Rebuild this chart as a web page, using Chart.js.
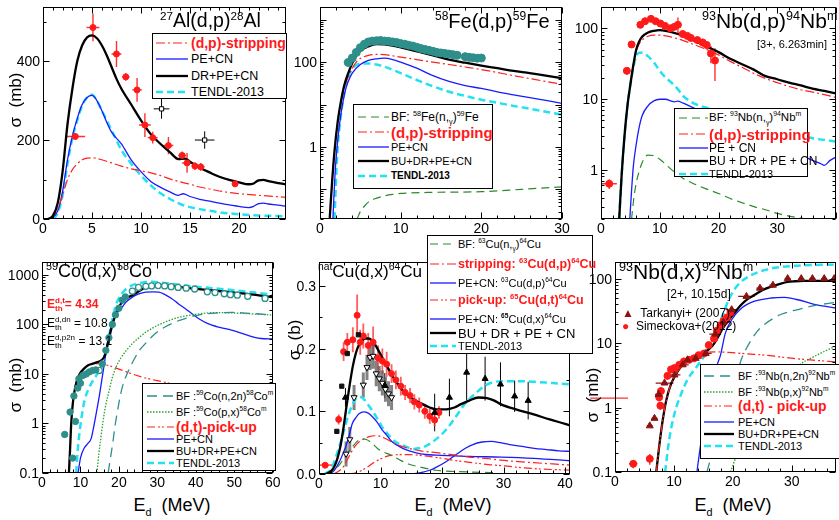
<!DOCTYPE html>
<html>
<head>
<meta charset="utf-8">
<script src="https://cdn.jsdelivr.net/npm/chart.js@4.4.1/dist/chart.umd.min.js"></script>
<style>
  body { margin: 0; background: #fff; width: 839px; height: 520px; overflow: hidden; position: relative;
         font-family: "Liberation Sans", Arial, sans-serif; color: #000; }
  canvas { position: absolute; }
  .t { position: absolute; white-space: nowrap; line-height: 1; }
  .tk { position: absolute; white-space: nowrap; line-height: 1; font-size: 14px; z-index: 6; }
  .lg { position: absolute; background: #fff; border: 1px solid #000; z-index: 5; box-sizing: border-box; }
  .lg svg { position: absolute; left: 0; top: 0; }
  .row { position: absolute; white-space: nowrap; line-height: 1; transform: translateY(-50%); }
  sup, sub { font-size: 60%; line-height: 0; }
  .red { color: #ff1a1a; font-weight: bold; }
  .ss { display: inline-flex; flex-direction: column; font-size: 8px; line-height: 8px; vertical-align: middle; }
</style>
</head>
<body>
<canvas id="c1"></canvas><canvas id="c2"></canvas><canvas id="c3"></canvas>
<canvas id="c4"></canvas><canvas id="c5"></canvas><canvas id="c6"></canvas>

<script>
// ---------- 27Al(d,p)28Al ----------
const alStripping = [[0.8,0],[1.5,25],[2,60],[2.5,100],[3,125],[3.5,140],[4,150],[4.5,154],[5,155],[6,150],[7,142],[8,134],[9,127],[10,122],[11,117],[12,110],[13,101],[14,94],[15,88],[16,81],[17,76],[18,71],[19,67],[20,64],[22,60],[24.8,55]];
const alPECN = [[0.8,0],[1.5,20],[2,70],[2.5,150],[3,210],[3.5,255],[4,290],[4.5,308],[5,313],[5.5,300],[6,275],[6.5,245],[7,220],[8,190],[9,150],[10,120],[11,95],[12,80],[13,68],[13.8,60],[14.3,64],[15,57],[16,50],[17,45],[18,40],[19,36],[20,32],[21,29],[21.5,32],[22,39],[22.5,40],[23,38],[24,35],[24.8,32]];
const alDRPECN = [[0.5,0],[1,8],[1.5,40],[2,120],[2.5,240],[3,330],[3.5,400],[4,440],[4.5,460],[5,465],[5.5,458],[6,440],[6.5,415],[7,385],[7.5,355],[8,330],[9,290],[10,250],[11,215],[12,190],[13,168],[13.8,152],[14.5,153],[15,145],[16,130],[17,118],[18,107],[19,99],[20,93],[21,88],[21.5,90],[22,98],[22.5,99],[23,96],[24,91],[24.8,88]];
const alTENDL = [[1,0],[1.5,15],[2,60],[2.5,140],[3,205],[3.5,250],[4,288],[4.5,308],[5,315],[5.5,300],[6,275],[7,225],[8,175],[9,140],[10,110],[11,85],[12,65],[13,50],[14,38],[15,30],[16,25],[18,17],[20,12],[22,9],[24.8,7]];
const alExpX = [3.3, 5.1, 7.5, 8.45, 9.6, 10.4, 11.2, 12.8, 14.2, 14.7, 15.5, 16.1, 19.6];
const alExpY = [209, 485, 418, 360, 327, 238, 206, 186, 161, 142, 134, 132, 89];
const alExpXErr = [1.0, 0.65, 0.5, 0.4, 0.5, 0.6, 0.5, 0.5, 0.4, 0.5, 0.3, 0.4, 0.2];
const alExpYErr = [8, 35, 33, 10, 30, 30, 15, 22, 10, 25, 10, 10, 4];
const alOpenX = [12.1, 16.5];
const alOpenY = [279, 200];
const alOpenXErr = [0.8, 1.0];
const alOpenYErr = [25, 22];

// ---------- 58Fe(d,p)59Fe ----------
const feBF = [[4.6,0.02],[5,0.03],[5.5,0.04],[6,0.05],[7,0.062],[8,0.07],[9,0.076],[10,0.08],[14,0.085],[20,0.088],[25,0.1],[30,0.115]];
const feStripping = [[1.2,0.02],[1.5,0.15],[1.8,0.8],[2.2,4],[2.6,11],[3,24],[3.5,45],[4,72],[4.5,100],[5,122],[6,145],[7,153],[8,150],[10,132],[12,115],[14,100],[16,88],[18,77],[20,67],[22,57],[24,48],[26,41],[28,35],[30,30]];
const fePECN = [[1.6,0.02],[1.9,0.3],[2.25,1.8],[2.6,6],[3.1,20],[3.5,35],[4,55],[5,88],[6,110],[7,120],[8,124],[9,115],[10,100],[12,72],[14,48],[16,35],[18,28],[20,24],[22,20],[24,17],[26,14.5],[28,12.5],[30,10.7]];
const feBUDRPECN = [[1.2,0.02],[1.5,0.15],[1.8,0.8],[2.2,4],[2.6,12],[3,28],[3.5,55],[4,95],[4.5,145],[5,185],[6,235],[7,265],[8,262],[9,245],[10,222],[12,180],[14,145],[16,115],[18,97],[20,83],[22,72],[24,62],[26,55],[28,48],[30,42]];
const feTENDL = [[1.8,0.02],[2.1,0.5],[2.5,4],[3,18],[3.5,45],[4,70],[4.5,85],[5,92],[6,93],[7,88],[8,78],[10,55],[12,38],[14,27],[16,20],[18,16],[20,13],[22,11],[24,9.3],[26,8],[28,6.8],[30,5.8]];
const feExpX = [3.5,4,4.5,5,5.5,6,6.5,7,7.5,8,8.5,9,9.5,10,10.5,11,11.5,12,12.5,13,13.5,14,14.5,15,15.5,16,16.5,17,18,18.5,19,19.5,20];
const feExpY = [98,125,170,220,265,300,315,320,325,315,310,300,290,275,265,250,240,225,210,200,190,180,170,165,160,155,150,145,135,130,127,124,125];

// ---------- 93Nb(d,p)94Nbm ----------
const nbpBF = [[5.2,0.2],[5.6,0.4],[6,0.65],[6.5,0.95],[7,1.25],[7.5,1.5],[8,1.6],[9,1.58],[10,1.4],[12,1.0],[14,0.75],[16,0.62],[18,0.53],[20,0.46],[22,0.39],[24,0.34],[26,0.3],[28,0.27],[30,0.24],[32,0.22],[35,0.2]];
const nbpStripping = [[3.1,0.2],[3.5,0.8],[4,3],[4.5,8],[5,16],[5.5,29],[6,47],[6.5,60],[7,68],[8,77],[9,80],[10,80],[11,78],[12,75],[14,67],[16,58],[18,50],[20,42],[22,34],[24,28],[26,23],[28,19.5],[30,17],[32,15],[34,13.5],[36,12.5],[38,11.5],[40,10.5]];
const nbpPECN = [[4.9,0.2],[5.2,0.5],[5.5,1.1],[6,2.3],[6.5,4],[7,5.8],[8,8],[9,9.4],[10,9.9],[11,9.9],[12,9.3],[12.5,9.1],[13,9.3],[14,8.7],[16,7.3],[18,6.2],[20,5.3],[22,4.5],[25,3.6],[28,2.8],[31,2.1],[34,1.6],[36,1.35],[37.5,1.2],[38,1.15],[39,1.35],[40,1.5]];
const nbpBUDRPECN = [[3.1,0.2],[3.5,0.8],[4,3],[4.5,8],[5,16],[5.5,30],[6,50],[6.5,65],[7,76],[8,87],[9,92],[10,94],[11,92],[12,88],[14,78],[16,66],[18,55],[20,46],[22,37],[24,31],[26,26],[28,21],[30,19],[32,17],[34,15.5],[36,14],[38,13],[40,12]];
const nbpTENDL = [[3.1,0.2],[3.5,0.8],[4,3],[4.5,8],[5,16],[5.5,28],[6,40],[6.5,45],[7,45],[8,40],[9,33],[10,25],[11,20],[12,17],[13,14],[14,11],[15,9.5],[16,8.5],[18,7.5],[20,6.8],[22,6],[25,5],[28,4.2],[31,3.5],[34,3],[37,2.7],[40,2.5]];
const nbpExpX = [1.4, 4.4, 5.2, 6.7, 7.5, 8.5, 9.3, 10.1, 10.9, 11.8, 12.5, 13.1, 13.9, 14.7, 15.3, 16.4, 17.3, 18.0, 18.7, 19.4];
const nbpExpY = [0.63, 25, 59, 112, 126, 136, 126, 117, 108, 100, 105, 112, 83, 78, 73, 68, 63, 58, 44, 35];
const nbpExpXErr = [1.3, 0.6, 0.6, 0.4, 0.4, 0.4, 0.4, 0.4, 0.4, 0.4, 0.4, 0.4, 0.4, 0.4, 0.4, 0.4, 0.4, 0.4, 0.3, 0.3];
const nbpExpYErr = [0.1, 3, 6, 12, 12, 12, 12, 12, 10, 10, 12, 30, 10, 8, 8, 8, 8, 8, 12, 17];

// ---------- 59Co(d,x)58Co ----------
const coBFn2n = [[17.2,0.1],[17.8,0.2],[18.4,0.4],[19,0.9],[19.7,1.9],[20.3,3.4],[20.9,5.5],[21.8,8.8],[22.7,12.6],[24,20],[25.2,29],[27,42],[28.7,58],[31,80],[33.8,105],[37,130],[40.7,155],[45,170],[49.3,175],[54,168],[60,155]];
const coBFpx = [[14.3,0.1],[14.8,0.25],[15.3,0.5],[15.8,1],[16.5,2.2],[17.5,4.7],[18.3,8.5],[19.2,13.5],[20.5,21],[21.8,29],[23.5,41],[25.2,54],[27,70],[29.5,91],[32,112],[34,128],[36.4,144],[40,160],[43.3,171],[46,173],[49.3,171],[52,167],[56,161],[60,155]];
const coPickup = [[7,0.1],[7.6,1],[8.5,4.7],[9.8,10],[11,13],[12,15],[13,16],[14,16.2],[15,16],[17.5,14.7],[20.9,11.8],[26.1,8.6],[32,6.8],[38,5.3],[44,4.2],[50,3.4],[55,2.9],[60,2.5]];
const coPECN = [[9.4,0.1],[10,0.2],[11,0.32],[12,0.4],[12.8,0.5],[13.5,0.9],[14.1,1.6],[14.8,3.2],[15.4,6.3],[16.2,16],[17.1,46],[18.4,114],[19.5,170],[20.5,208],[22,290],[23.5,356],[25,410],[27,450],[29,455],[30.4,450],[32,400],[33.8,330],[35.5,260],[37.3,208],[39,165],[40.7,132],[43,105],[46,88],[49.3,77],[52,66],[55.3,55],[57,52],[60,51]];
const coBUDRPECN = [[7,0.1],[7.3,0.3],[7.6,1],[8,2.5],[8.5,4.7],[9,7],[9.8,10],[11,13],[12,15],[13,16],[14,17],[15,18],[16,21],[16.5,26],[17,37],[17.5,54],[18,80],[18.8,133],[19.5,190],[20.5,260],[22,340],[23.5,390],[25,460],[27,560],[29,610],[31,625],[33,610],[36,565],[40,525],[45,480],[50,440],[55,400],[60,355]];
const coTENDL = [[8.9,0.1],[9.3,0.3],[9.8,0.7],[10.5,1.7],[11.1,3],[12,4.8],[13,6.8],[14,9],[15,12],[16,18],[16.7,29],[17.3,50],[18,98],[18.6,160],[19.2,245],[20,340],[21,440],[22,530],[23.5,620],[25.2,680],[27,720],[28.7,730],[31,700],[34,660],[36.4,620],[40,580],[45,535],[50,490],[55,445],[60,395]];
const coExpX = [5.9, 7.3, 8.0, 8.3, 8.7, 9.3, 9.6, 10.0, 10.6, 11.5, 12.3, 13.2, 14.0, 15.7, 16.6, 17.4, 18.3, 19.1, 20.0, 20.9, 21.7];
const coExpY = [0.6, 1.7, 0.2, 3.6, 1.1, 5.2, 8, 6.5, 9.3, 10, 11, 11.8, 12.1, 16, 30, 54, 100, 156, 213, 310, 360];
const coOpenX = [14.9, 23.5, 25.1, 27, 28.5, 30.2, 31.9, 33.6, 35.4, 37.5, 39.7, 43, 45, 47.4, 49, 50.8, 53.5, 58];
const coOpenY = [11.8, 470, 560, 590, 600, 610, 600, 580, 560, 540, 520, 455, 440, 417, 400, 390, 370, 335];

// ---------- natCu(d,x)64Cu ----------
const cuBF = [[1.2,0],[2,0.003],[3,0.011],[3.5,0.017],[4.4,0.03],[5.4,0.043],[6.2,0.052],[7,0.056],[7.7,0.055],[8.5,0.05],[9.6,0.04],[10.5,0.035],[11.7,0.03],[13,0.023],[14.5,0.016],[16.5,0.011],[19,0.006],[22,0.004],[25,0.003],[29,0.002]];
const cuStripping = [[2.3,0],[3,0.003],[4,0.012],[4.4,0.019],[5,0.03],[5.9,0.045],[6.5,0.051],[7.5,0.057],[8.3,0.06],[9.1,0.061],[10,0.06],[10.7,0.057],[12,0.05],[13.8,0.043],[16.5,0.037],[19.1,0.034],[21.5,0.031],[24.4,0.027],[27,0.025],[29.6,0.022],[32,0.02],[34.9,0.018],[38,0.016],[41,0.014]];
const cuPECN63 = [[1.7,0],[2.5,0.006],[3.3,0.019],[4,0.035],[4.4,0.045],[5,0.065],[5.4,0.08],[6,0.09],[6.5,0.096],[7.3,0.099],[8,0.097],[8.6,0.092],[9.5,0.082],[10.2,0.071],[11,0.062],[11.7,0.053],[12.7,0.046],[13.8,0.04],[15,0.036],[16.5,0.032],[19.1,0.03],[22,0.029],[24.4,0.028],[29.6,0.027],[34.9,0.025],[41,0.021]];
const cuPickup = [[4.9,0],[6,0.002],[7,0.006],[8,0.012],[9,0.019],[10,0.024],[11,0.028],[12,0.03],[13,0.031],[14.5,0.031],[16,0.03],[18,0.028],[20,0.025],[22.5,0.021],[25,0.018],[27.5,0.015],[30,0.013],[33,0.01],[36,0.008],[41,0.006]];
const cuPECN65 = [[15,0],[16.5,0.002],[18,0.006],[19.1,0.011],[20.7,0.02],[22.3,0.031],[23.8,0.041],[25,0.047],[26.5,0.051],[28,0.052],[29.5,0.05],[31,0.047],[33,0.044],[35,0.041],[37,0.039],[39,0.037],[41,0.036]];
const cuBUDRPECN = [[1.2,0],[2,0.005],[2.5,0.012],[3,0.025],[3.5,0.045],[4,0.075],[4.5,0.11],[5,0.143],[5.5,0.172],[6,0.193],[6.5,0.206],[7,0.213],[7.5,0.216],[8,0.216],[8.6,0.213],[9.5,0.2],[10.2,0.187],[11,0.173],[11.7,0.16],[12.5,0.148],[13.8,0.131],[15,0.121],[16.5,0.113],[18,0.106],[19.1,0.103],[20.7,0.103],[22,0.106],[23,0.111],[24.4,0.117],[25.9,0.122],[27.3,0.121],[28.5,0.117],[29.6,0.111],[32,0.103],[34.9,0.095],[37.5,0.087],[40,0.08],[41,0.077]];
const cuTENDL = [[0.9,0],[2,0.008],[2.5,0.02],[3,0.035],[3.5,0.05],[4,0.067],[4.5,0.085],[5,0.1],[5.5,0.112],[6,0.12],[6.5,0.123],[7,0.122],[7.5,0.117],[8,0.11],[8.6,0.102],[9.5,0.088],[10.2,0.076],[11,0.066],[11.7,0.058],[12.5,0.051],[13.8,0.045],[15.4,0.04],[17,0.043],[18,0.048],[19.1,0.056],[20.7,0.071],[22.3,0.092],[23.8,0.113],[25.4,0.128],[27,0.141],[28.6,0.147],[30,0.148],[32.3,0.148],[35,0.147],[38,0.145],[41,0.143]];
const cuRedX = [1.0, 3.2, 4.0, 4.6, 5.5, 6.2, 6.7, 7.2, 8.0, 8.8, 9.6, 10.3, 11.0, 11.8, 12.5, 13.3, 14.0, 14.8, 15.5, 16.3, 17.2, 18.0, 18.8, 19.5];
const cuRedY = [0.014, 0.087, 0.195, 0.21, 0.214, 0.253, 0.21, 0.22, 0.205, 0.21, 0.185, 0.18, 0.175, 0.16, 0.15, 0.14, 0.13, 0.125, 0.115, 0.11, 0.1, 0.092, 0.086, 0.098];
const cuRedXErr = [1.5, 0.3, 0.3, 0.3, 0.3, 0.3, 0.3, 0.3, 0.3, 0.3, 0.3, 0.3, 0.3, 0.3, 0.3, 0.3, 0.3, 0.3, 0.3, 0.3, 0.3, 0.3, 0.3, 0.3];
const cuRedYErr = [0.003, 0.008, 0.015, 0.015, 0.02, 0.033, 0.02, 0.02, 0.02, 0.025, 0.02, 0.02, 0.02, 0.015, 0.015, 0.015, 0.012, 0.012, 0.012, 0.012, 0.012, 0.012, 0.01, 0.01];
const cuSqX = [2.9, 3.7, 4.6, 6.4];
const cuSqY = [0.068, 0.14, 0.192, 0.222];
const cuDownX = [4.4, 5.0, 5.7, 7.2, 7.8, 8.3, 8.8, 9.3, 9.8, 10.3, 10.8, 11.3, 11.8];
const cuDownY = [0.032, 0.055, 0.122, 0.142, 0.17, 0.186, 0.188, 0.16, 0.152, 0.145, 0.135, 0.128, 0.122];
const cuUpX = [4.3, 10.7, 18.8, 21.2, 24, 27, 29.5, 31.8, 34];
const cuUpY = [0.122, 0.141, 0.098, 0.122, 0.162, 0.152, 0.143, 0.124, 0.117];
const cuUpYErr = [0.015, 0.02, 0.03, 0.03, 0.045, 0.035, 0.035, 0.025, 0.03];

// ---------- 93Nb(d,x)92Nbm ----------
const nbxBFn2n = [[15.6,0.1],[16.2,0.16],[17,0.33],[18,0.7],[19,1.2],[20,2.3],[21,4.2],[21.5,5.8],[22.3,8.3],[23.2,11.5],[24.2,15.5],[25.4,19.6],[26.8,24],[28.2,28],[31,33],[33.8,38],[37.5,43]];
const nbxBFpx = [[19.6,0.1],[20.4,0.16],[21.5,0.3],[23,0.55],[25,0.95],[27,1.6],[29,2.8],[31,4.4],[33.8,6.2],[35.5,7.4],[37.5,9]];
const nbxPickup = [[7,0.1],[7.5,0.25],[8.1,0.64],[8.7,1.3],[9.5,2.3],[10.6,3.6],[12,5.0],[13,5.8],[14.2,6.6],[15.4,7.2],[17,7.3],[19.8,7.1],[22.5,6.8],[25.4,6.5],[28,6.1],[31,5.7],[34,5.4],[37.5,5.1]];
const nbxPECN = [[13.9,0.1],[14.4,0.22],[15,0.5],[15.6,1.0],[16.2,1.9],[16.8,3.2],[17.4,4.8],[17.9,6.5],[18.7,14],[19.8,23],[21.5,35],[23.7,44.6],[26.5,50],[28.8,51],[31,47],[33.8,40],[37.5,35]];
const nbxBUDRPECN = [[7,0.1],[7.5,0.25],[8.1,0.64],[8.7,1.3],[9.5,2.3],[10.6,3.6],[12,5.2],[13,5.9],[14.2,6.5],[15.2,7.2],[15.9,8],[16.5,9],[17,10.4],[17.6,13],[18.2,16.5],[19,21],[19.8,26],[20.6,32],[21.5,40],[22.5,48],[23.7,56],[25,66],[26.5,75],[28,83],[29.3,89],[30.5,91],[32.1,92],[35,92],[37.5,92]];
const nbxTENDL = [[8.5,0.1],[9.2,0.32],[10.1,0.81],[11.2,1.6],[12.3,2.7],[13.7,4.1],[15.4,6.9],[16.1,9.5],[16.8,13],[17.5,18],[18.2,26],[19.3,47],[20.4,71],[21.2,86],[22.1,100],[24.3,126],[27.1,147],[31,159],[34,163],[37.5,165]];
const nbxTarkX = [5.9, 6.7, 7.4, 8.4, 10.1, 11.5, 12.3, 13.7, 15.4, 17.0, 18.4, 19.8, 22.3, 24.6, 26.8, 29.3, 31.6, 33.5, 35.5, 37.2];
const nbxTarkY = [0.52, 0.68, 1.6, 2.4, 3.2, 4.6, 5.5, 5.8, 6.9, 13.8, 21, 33, 53, 71, 79, 100, 100, 100, 100, 100];
const nbxTarkXErr = [0.5, 0.5, 0.6, 1.5, 1.0, 1.0, 1.0, 1.0, 1.0, 1.0, 1.0, 1.0, 1.4, 0.6, 0.6, 0.5, 0.5, 0.5, 0.5, 0.5];
const nbxSimX = [3.1, 5.9, 7.5, 7.7, 7.8, 8.9, 9.5, 10.1, 10.9, 11.7, 12.6, 13.4, 14.2, 15.1, 15.9, 16.8, 17.3, 17.9, 18.4, 19.0, 19.6];
const nbxSimY = [0.134, 0.16, 1.44, 1.07, 1.8, 3.1, 3.9, 4.1, 4.6, 5.2, 5.5, 5.8, 6.5, 6.9, 9.3, 11.7, 15.6, 18.6, 22, 25, 30];
const nbxSimXErr = [0.7, 0.4, 0.3, 0.3, 0.3, 0.3, 0.3, 0.3, 0.3, 0.3, 0.3, 0.3, 0.3, 0.3, 0.3, 0.3, 0.3, 0.3, 0.3, 0.3, 0.3];
const nbxSimYErr = [0.02, 0.03, 0.2, 0.15, 0.25, 0.4, 0.5, 0.5, 0.5, 0.6, 0.6, 0.6, 0.7, 0.8, 1, 1.3, 1.7, 2, 2.4, 2.8, 3.3];

// tick labels
const alXTicks = [0, 5, 10, 15, 20], alYTicks = [0, 200, 400], alYLabels = ['0', '200', '400'];
const feXTicks = [0, 10, 20, 30], feYTicks = [0.1, 1, 10, 100, 1000], feYLabels = ['', '1', '', '100', ''];
const nbpXTicks = [0, 10, 20, 30], nbpYTicks = [1, 10, 100], nbpYLabels = ['1', '10', '100'];
const coXTicks = [0, 10, 20, 30, 40, 50, 60], coYTicks = [0.1, 1, 10, 100, 1000], coYLabels = ['0.1', '1', '10', '100', '1000'];
const cuXTicks = [0, 10, 20, 30, 40], cuYTicks = [0, 0.1, 0.2, 0.3], cuYLabels = ['0.0', '0.1', '0.2', '0.3'];
const nbxXTicks = [0, 10, 20, 30], nbxYTicks = [0.1, 1, 10, 100], nbxYLabels = ['0.1', '1', '10', '100'];

Chart.defaults.font.family = '"Liberation Sans", Arial, sans-serif';
Chart.defaults.font.size = 14;
Chart.defaults.color = '#000';
Chart.defaults.animation = false;

const ST = {
  black: { borderColor: '#000', borderWidth: 2.3 },
  blue:  { borderColor: '#1a1aff', borderWidth: 1.3 },
  cyan:  { borderColor: '#22e2f2', borderWidth: 2.5, borderDash: [7, 4] },
  strip: { borderColor: '#ff2020', borderWidth: 1.2, borderDash: [9, 3, 2, 3] },
  pick:  { borderColor: '#ff2020', borderWidth: 1.2, borderDash: [8, 3, 2, 2, 2, 3] },
  gdash: { borderColor: '#2a8a2a', borderWidth: 1.2, borderDash: [8, 5] },
  tdash: { borderColor: '#2f8f8f', borderWidth: 1.3, borderDash: [10, 6] },
  gdot:  { borderColor: '#2aa02a', borderWidth: 1.3, borderDash: [1.5, 1.5] }
};

function line(pairs, st, order) {
  return Object.assign({ data: pairs.map(p => ({ x: p[0], y: p[1] })), pointRadius: 0, fill: false,
    cubicInterpolationMode: 'monotone', order: order || 2 }, st);
}
function pts(xs, ys, o) {
  return Object.assign({ data: xs.map((x, i) => ({ x: x, y: ys[i] })), showLine: false, pointRadius: 3,
    pointBorderWidth: 1, order: 0 }, o);
}

// frame and inward ticks on all four sides
const frame = {
  id: 'frame',
  afterDraw(chart, args, o) {
    const { ctx, chartArea: a } = chart, sx = chart.scales.x, sy = chart.scales.y;
    const L = Math.round(a.left) + 0.5, R = Math.round(a.right) - 0.5, T = Math.round(a.top) + 0.5, B = Math.round(a.bottom) - 0.5;
    ctx.save();
    ctx.strokeStyle = '#000'; ctx.lineWidth = 1;
    ctx.strokeRect(L, T, R - L, B - T);
    ctx.beginPath();
    const xt = (v, len) => { const p = Math.round(sx.getPixelForValue(v)) + 0.5; ctx.moveTo(p, B); ctx.lineTo(p, B - len); ctx.moveTo(p, T); ctx.lineTo(p, T + len); };
    const yt = (v, len) => { const p = Math.round(sy.getPixelForValue(v)) + 0.5; ctx.moveTo(L, p); ctx.lineTo(L + len, p); ctx.moveTo(R, p); ctx.lineTo(R - len, p); };
    for (let i = Math.ceil(sx.min / o.xMinor); i * o.xMinor <= sx.max + 1e-9; i++) {
      const v = i * o.xMinor, r = v / o.xMajor;
      xt(v, Math.abs(r - Math.round(r)) < 1e-6 ? 6 : 3);
    }
    if (o.yLog) {
      for (let d = Math.floor(Math.log10(sy.min)); d <= Math.ceil(Math.log10(sy.max)); d++)
        for (let k = 1; k <= 9; k++) { const v = k * Math.pow(10, d); if (v >= sy.min && v <= sy.max) yt(v, k === 1 ? 6 : 3); }
    } else {
      for (let i = Math.ceil(sy.min / o.yMinor - 1e-9); i * o.yMinor <= sy.max + 1e-9; i++) {
        const v = i * o.yMinor, r = v / o.yMajor;
        yt(v, Math.abs(r - Math.round(r)) < 1e-6 ? 6 : 3);
      }
    }
    ctx.stroke();
    ctx.restore();
  }
};

const errBars = {
  id: 'errBars',
  beforeDatasetsDraw(chart) {
    const { ctx, chartArea: a } = chart, sx = chart.scales.x, sy = chart.scales.y;
    chart.data.datasets.forEach(ds => {
      if (!ds.xErr && !ds.yErr) return;
      ctx.save();
      if (!ds.noClip) { ctx.beginPath(); ctx.rect(a.left, a.top, a.right - a.left, a.bottom - a.top); ctx.clip(); }
      ctx.strokeStyle = ds.errColor; ctx.lineWidth = ds.errWidth || 1;
      ctx.beginPath();
      ds.data.forEach((p, i) => {
        const px = sx.getPixelForValue(p.x), py = sy.getPixelForValue(p.y);
        if (ds.xErr && ds.xErr[i]) { ctx.moveTo(sx.getPixelForValue(p.x - ds.xErr[i]), py); ctx.lineTo(sx.getPixelForValue(p.x + ds.xErr[i]), py); }
        if (ds.yErr && ds.yErr[i]) {
          const lo = Math.max(p.y - ds.yErr[i], sy.min);
          ctx.moveTo(px, sy.getPixelForValue(lo)); ctx.lineTo(px, sy.getPixelForValue(p.y + ds.yErr[i]));
        }
      });
      ctx.stroke();
      ctx.restore();
    });
  }
};

function tickLabel(x, y, txt, tf) {
  const d = document.createElement('div');
  d.className = 'tk';
  d.style.left = x + 'px'; d.style.top = y + 'px'; d.style.transform = tf;
  d.textContent = txt;
  document.body.appendChild(d);
}

function panel(id, box, xs, ys, datasets) {
  const cv = document.getElementById(id);
  const w = box.R - box.L + box.yw + 2, h = box.B - box.T + box.xh + 1;
  cv.width = w; cv.height = h;
  const cl = box.L - box.yw, ct = box.T - 1;
  cv.style.left = cl + 'px'; cv.style.top = ct + 'px';
  const chart = new Chart(cv, {
    type: 'line',
    data: { datasets: datasets },
    options: {
      responsive: false, devicePixelRatio: 1, events: [],
      layout: { padding: { top: 1, right: 2, left: 0, bottom: 0 } },
      plugins: { legend: { display: false }, tooltip: { enabled: false },
        frame: { xMinor: xs.minor, xMajor: xs.major, yMinor: ys.minor, yMajor: ys.major, yLog: ys.type === 'logarithmic' } },
      scales: {
        x: { type: 'linear', min: xs.min, max: xs.max,
          grid: { display: false }, border: { display: false }, ticks: { display: false },
          afterBuildTicks: s => { s.ticks = xs.ticks.map(v => ({ value: v })); },
          afterFit: s => { s.height = box.xh; s.paddingLeft = 0; s.paddingRight = 0; } },
        y: { type: ys.type, min: ys.min, max: ys.max,
          grid: { display: false }, border: { display: false }, ticks: { display: false },
          afterBuildTicks: s => { s.ticks = ys.ticks.map(v => ({ value: v })); },
          afterFit: s => { s.width = box.yw; s.paddingTop = 0; s.paddingBottom = 0; } }
      }
    },
    plugins: [frame, errBars]
  });
  // tick labels placed through the chart's own scales
  const a = chart.chartArea;
  xs.ticks.forEach(v => tickLabel(cl + chart.scales.x.getPixelForValue(v), ct + a.bottom + 2, String(v), 'translateX(-50%)'));
  ys.ticks.forEach((v, i) => { if (ys.labels[i]) tickLabel(cl + a.left - 3, ct + chart.scales.y.getPixelForValue(v), ys.labels[i], 'translate(-100%,-50%)'); });
}

// panel 1
panel('c1', { L: 43, R: 289, T: 3, B: 219, yw: 43, xh: 20 },
  { min: 0, max: 24.8, ticks: alXTicks, major: 5, minor: 1 },
  { type: 'linear', min: 0, max: 537, ticks: alYTicks, labels: alYLabels, major: 200, minor: 100 },
  [
    pts(alExpX, alExpY, { pointBackgroundColor: '#ff1a1a', pointBorderColor: '#ff1a1a', xErr: alExpXErr, yErr: alExpYErr, errColor: '#ff3030', errWidth: 1.4 }),
    pts(alOpenX, alOpenY, { pointStyle: 'rect', pointRadius: 3, pointBackgroundColor: '#fff', pointBorderColor: '#000', xErr: alOpenXErr, yErr: alOpenYErr, errColor: '#000', errWidth: 1 }),
    line(alDRPECN, ST.black, 1), line(alStripping, ST.strip), line(alPECN, ST.blue), line(alTENDL, ST.cyan)
  ]);

// panel 2
panel('c2', { L: 320, R: 565, T: 3, B: 219, yw: 31, xh: 20 },
  { min: 0, max: 30, ticks: feXTicks, major: 10, minor: 2 },
  { type: 'logarithmic', min: 0.02, max: 2000, ticks: feYTicks, labels: feYLabels },
  [
    pts(feExpX, feExpY, { pointRadius: 4, pointBackgroundColor: '#2e8f8a', pointBorderColor: '#2e8f8a', xErr: [0.5], errColor: '#2e8f8a', errWidth: 1.2 }),
    line(feBUDRPECN, ST.black, 1), line(feBF, ST.gdash), line(feStripping, ST.strip), line(fePECN, ST.blue), line(feTENDL, ST.cyan)
  ]);

// panel 3
panel('c3', { L: 601, R: 839, T: 3, B: 219, yw: 32, xh: 20 },
  { min: 0, max: 40, ticks: nbpXTicks, major: 10, minor: 2 },
  { type: 'logarithmic', min: 0.2, max: 200, ticks: nbpYTicks, labels: nbpYLabels },
  [
    pts(nbpExpX, nbpExpY, { pointRadius: 3.5, pointBackgroundColor: '#ff1a1a', pointBorderColor: '#ff1a1a', xErr: nbpExpXErr, yErr: nbpExpYErr, errColor: '#ff3030', errWidth: 1.4 }),
    line(nbpBUDRPECN, ST.black, 1), line(nbpBF, ST.gdash), line(nbpStripping, ST.strip), line(nbpPECN, ST.blue), line(nbpTENDL, ST.cyan)
  ]);

// panel 4
panel('c4', { L: 42, R: 276, T: 258, B: 473, yw: 42, xh: 20 },
  { min: 0, max: 60, ticks: coXTicks, major: 10, minor: 2 },
  { type: 'logarithmic', min: 0.1, max: 1800, ticks: coYTicks, labels: coYLabels },
  [
    pts(coExpX, coExpY, { pointRadius: 3.2, pointBackgroundColor: '#2e8f8a', pointBorderColor: '#2e8f8a' }),
    pts(coOpenX, coOpenY, { pointRadius: 3, pointBackgroundColor: '#fff', pointBorderColor: '#2e8f8a', pointBorderWidth: 1.3 }),
    line(coBUDRPECN, ST.black, 1), line(coBFn2n, ST.tdash), line(coBFpx, ST.gdot), line(coPickup, ST.pick), line(coPECN, ST.blue), line(coTENDL, ST.cyan)
  ]);

// panel 5
panel('c5', { L: 319, R: 573, T: 258, B: 474, yw: 30, xh: 20 },
  { min: 0, max: 40.8, ticks: cuXTicks, major: 10, minor: 2 },
  { type: 'linear', min: 0, max: 0.338, ticks: cuYTicks, labels: cuYLabels, major: 0.1, minor: 0.05 },
  [
    pts(cuSqX, cuSqY, { pointStyle: 'rect', pointRadius: 3, pointBackgroundColor: '#111', pointBorderColor: '#111' }),
    pts(cuUpX, cuUpY, { pointStyle: 'triangle', pointRadius: 3.5, pointBackgroundColor: '#000', pointBorderColor: '#000', yErr: cuUpYErr, errColor: '#000', errWidth: 1 }),
    pts(cuRedX, cuRedY, { pointBackgroundColor: '#ff1a1a', pointBorderColor: '#ff1a1a', xErr: cuRedXErr, yErr: cuRedYErr, errColor: 'rgba(255,40,40,0.75)', errWidth: 1.8 }),
    pts(cuDownX, cuDownY, { pointStyle: 'triangle', rotation: 180, pointRadius: 3.5, pointBackgroundColor: '#fff', pointBorderColor: '#000', yErr: cuDownY.map(() => 0.02), errColor: 'rgba(90,90,90,0.75)', errWidth: 3 }),
    line(cuBUDRPECN, ST.black, 1), line(cuBF, ST.gdash), line(cuStripping, ST.strip), line(cuPECN63, ST.blue),
    line(cuPickup, ST.pick), line(cuPECN65, ST.blue), line(cuTENDL, ST.cyan)
  ]);

// panel 6
panel('c6', { L: 615, R: 839, T: 258, B: 472, yw: 32, xh: 20 },
  { min: 0, max: 37.5, ticks: nbxXTicks, major: 10, minor: 2 },
  { type: 'logarithmic', min: 0.1, max: 181, ticks: nbxYTicks, labels: nbxYLabels },
  [
    pts(nbxTarkX, nbxTarkY, { pointStyle: 'triangle', pointRadius: 4, pointBackgroundColor: '#8b1212', pointBorderColor: '#8b1212', xErr: nbxTarkXErr, errColor: '#8b1212', errWidth: 1.2 }),
    pts(nbxSimX, nbxSimY, { pointRadius: 3.5, pointBackgroundColor: '#ff1a1a', pointBorderColor: '#ff1a1a', xErr: nbxSimXErr, yErr: nbxSimYErr, errColor: '#ff3030', errWidth: 1.4 }),
    pts([-1], [1.4], { pointRadius: 0, xErr: [3.2], errColor: '#ff3030', errWidth: 1.4, noClip: true }),
    line(nbxBUDRPECN, ST.black, 1), line(nbxPickup, ST.pick, 0.5), line(nbxBFn2n, ST.tdash), line(nbxBFpx, ST.gdot), line(nbxPECN, ST.blue), line(nbxTENDL, ST.cyan)
  ]);

// ---------- text overlays ----------
function text(x, y, html, css) {
  const d = document.createElement('div');
  d.className = 't'; d.style.left = x + 'px'; d.style.top = y + 'px';
  d.style.cssText += css || '';
  d.innerHTML = html;
  document.body.appendChild(d);
}
function legend(x, y, w, h, sx1, sx2, tx, rows) {
  const d = document.createElement('div');
  d.className = 'lg';
  Object.assign(d.style, { left: x + 'px', top: y + 'px', width: w + 'px', height: h + 'px' });
  let svg = '<svg width="' + w + '" height="' + h + '">';
  rows.forEach(r => {
    const s = r.st;
    svg += '<line x1="' + sx1 + '" x2="' + sx2 + '" y1="' + r.y + '" y2="' + r.y + '" stroke="' + s.borderColor +
      '" stroke-width="' + s.borderWidth + '"' + (s.borderDash ? ' stroke-dasharray="' + s.borderDash.join(' ') + '"' : '') + '/>';
  });
  svg += '</svg>';
  let html = svg;
  rows.forEach(r => { html += '<div class="row" style="left:' + tx + 'px;top:' + r.y + 'px;font-size:' + r.fs + 'px">' + r.html + '</div>'; });
  d.innerHTML = html;
  document.body.appendChild(d);
}
const sig = 'transform:translate(-50%,-50%) rotate(-90deg);font-size:17px;';
const ed = 'transform:translate(-50%,-50%);font-size:18px;';

// titles
text(160, 11, '<sup>27</sup>Al(d,p)<sup>28</sup>Al', 'font-size:19.5px');
text(435, 11, '<sup>58</sup>Fe(d,p)<sup>59</sup>Fe', 'font-size:20px');
text(702, 10, '<sup>93</sup>Nb(d,p)<sup>94</sup>Nb<sup>m</sup>', 'font-size:21px');
text(757, 39, '[3+, 6.263min]', 'font-size:11px');
text(46, 262, '<sup>59</sup>Co(d,x)<sup>58</sup>Co', 'font-size:18px');
text(318, 263, '<sup>nat</sup>Cu(d,x)<sup>64</sup>Cu', 'font-size:17.2px');
text(619, 261, '<sup>93</sup>Nb(d,x)<sup>92</sup>Nb<sup>m</sup>', 'font-size:21px');
text(667, 288, '[2+, 10.15d]', 'font-size:12px');

// axis titles
text(15, 100, '&sigma;&nbsp;&nbsp;(mb)', sig);
text(15, 385, '&sigma;&nbsp;&nbsp;(mb)', sig);
text(294, 340, '&sigma;&nbsp;&nbsp;(b)', sig);
text(592, 395, '&sigma;&nbsp;&nbsp;(mb)', sig);
text(172, 505, 'E<sub>d</sub>&nbsp;&nbsp;(MeV)', ed);
text(453, 505, 'E<sub>d</sub>&nbsp;&nbsp;(MeV)', ed);
text(733, 505, 'E<sub>d</sub>&nbsp;&nbsp;(MeV)', ed);

// thresholds
text(47, 297, 'E<span class="ss"><span>d,t</span><span>th</span></span>= 4.34', 'font-size:12px;color:#ff1a1a;font-weight:bold');
text(47, 316, 'E<span class="ss"><span>d,dn</span><span>th</span></span> = 10.8', 'font-size:12px');
text(47, 334, 'E<span class="ss"><span>d,p2n</span><span>th</span></span> = 13.1', 'font-size:12px');

// data legend in panel 6
text(622, 307, '<span style="color:#8b1212">&#9650;</span>&nbsp; Tarkanyi+ (2007)', 'font-size:12px');
text(622, 320, '<span style="color:#ff1a1a">&#9679;</span>&nbsp; Simeckova+(2012)', 'font-size:12px');

legend(152, 33, 135, 66, 3, 35, 38, [
  { y: 9, st: ST.strip, fs: 14, html: '<span class="red">(d,p)-stripping</span>' },
  { y: 25, st: ST.blue, fs: 12.5, html: 'PE+CN' },
  { y: 42, st: ST.black, fs: 12.5, html: 'DR+PE+CN' },
  { y: 58, st: ST.cyan, fs: 12.5, html: 'TENDL-2013' }
]);
legend(353, 104, 140, 85, 4, 35, 37, [
  { y: 12, st: ST.gdash, fs: 12, html: 'BF: <sup>58</sup>Fe(n,<sub>&gamma;</sub>)<sup>59</sup>Fe' },
  { y: 27, st: ST.strip, fs: 15, html: '<span class="red">(d,p)-stripping</span>' },
  { y: 42, st: ST.blue, fs: 11, html: 'PE+CN' },
  { y: 56, st: ST.black, fs: 11, html: 'BU+DR+PE+CN' },
  { y: 71, st: ST.cyan, fs: 10, html: '<b>TENDL-2013</b>' }
]);
legend(674, 108, 134, 69, 4, 33, 34, [
  { y: 9, st: ST.gdash, fs: 11.5, html: 'BF: <sup>93</sup>Nb(n,<sub>&gamma;</sub>)<sup>94</sup>Nb<sup>m</sup>' },
  { y: 25, st: ST.strip, fs: 15, html: '<span class="red">(d,p)-stripping</span>' },
  { y: 39, st: ST.blue, fs: 12, html: 'PE + CN' },
  { y: 52, st: ST.black, fs: 12, html: 'BU + DR + PE + CN' },
  { y: 65, st: ST.cyan, fs: 11, html: 'TENDL-2013' }
]);
legend(142, 383, 134, 88, 4, 31, 33, [
  { y: 12, st: ST.tdash, fs: 11, html: 'BF :<sup>59</sup>Co(n,2n)<sup>58</sup>Co<sup>m</sup>' },
  { y: 28, st: ST.gdot, fs: 11, html: 'BF :<sup>59</sup>Co(p,x)<sup>58</sup>Co<sup>m</sup>' },
  { y: 43, st: ST.pick, fs: 14, html: '<span class="red">(d,t)-pick-up</span>' },
  { y: 55, st: ST.blue, fs: 11, html: 'PE+CN' },
  { y: 67, st: ST.black, fs: 11, html: 'BU+DR+PE+CN' },
  { y: 79, st: ST.cyan, fs: 11, html: 'TENDL-2013' }
]);
legend(427, 235, 166, 119, 2, 28, 30, [
  { y: 8, st: ST.gdash, fs: 11, html: 'BF: <sup>63</sup>Cu(n,<sub>&gamma;</sub>)<sup>64</sup>Cu' },
  { y: 28, st: ST.strip, fs: 12.5, html: '<span class="red">stripping: <sup>63</sup>Cu(d,p)<sup>64</sup>Cu</span>' },
  { y: 47, st: ST.blue, fs: 11, html: 'PE+CN: <sup>63</sup>Cu(d,p)<sup>64</sup>Cu' },
  { y: 64, st: ST.pick, fs: 12.5, html: '<span class="red">pick-up: <sup>65</sup>Cu(d,t)<sup>64</sup>Cu</span>' },
  { y: 83, st: ST.blue, fs: 11, html: 'PE+CN: <sup><b>65</b></sup>Cu(d,x)<sup>64</sup>Cu' },
  { y: 97, st: ST.black, fs: 13, html: 'BU + DR + PE + CN' },
  { y: 110, st: ST.cyan, fs: 11, html: 'TENDL-2013' }
]);
legend(700, 364, 145, 95, 3, 33, 37, [
  { y: 11, st: ST.tdash, fs: 11, html: 'BF :<sup>93</sup>Nb(n,2n)<sup>92</sup>Nb<sup>m</sup>' },
  { y: 27, st: ST.gdot, fs: 11, html: 'BF :<sup>93</sup>Nb(p,x)<sup>92</sup>Nb<sup>m</sup>' },
  { y: 41, st: ST.pick, fs: 14, html: '<span class="red">(d,t) - pick-up</span>' },
  { y: 57, st: ST.blue, fs: 11, html: 'PE+CN' },
  { y: 69, st: ST.black, fs: 11, html: 'BU+DR+PE+CN' },
  { y: 81, st: ST.cyan, fs: 11, html: 'TENDL-2013' }
]);
</script>
</body>
</html>
